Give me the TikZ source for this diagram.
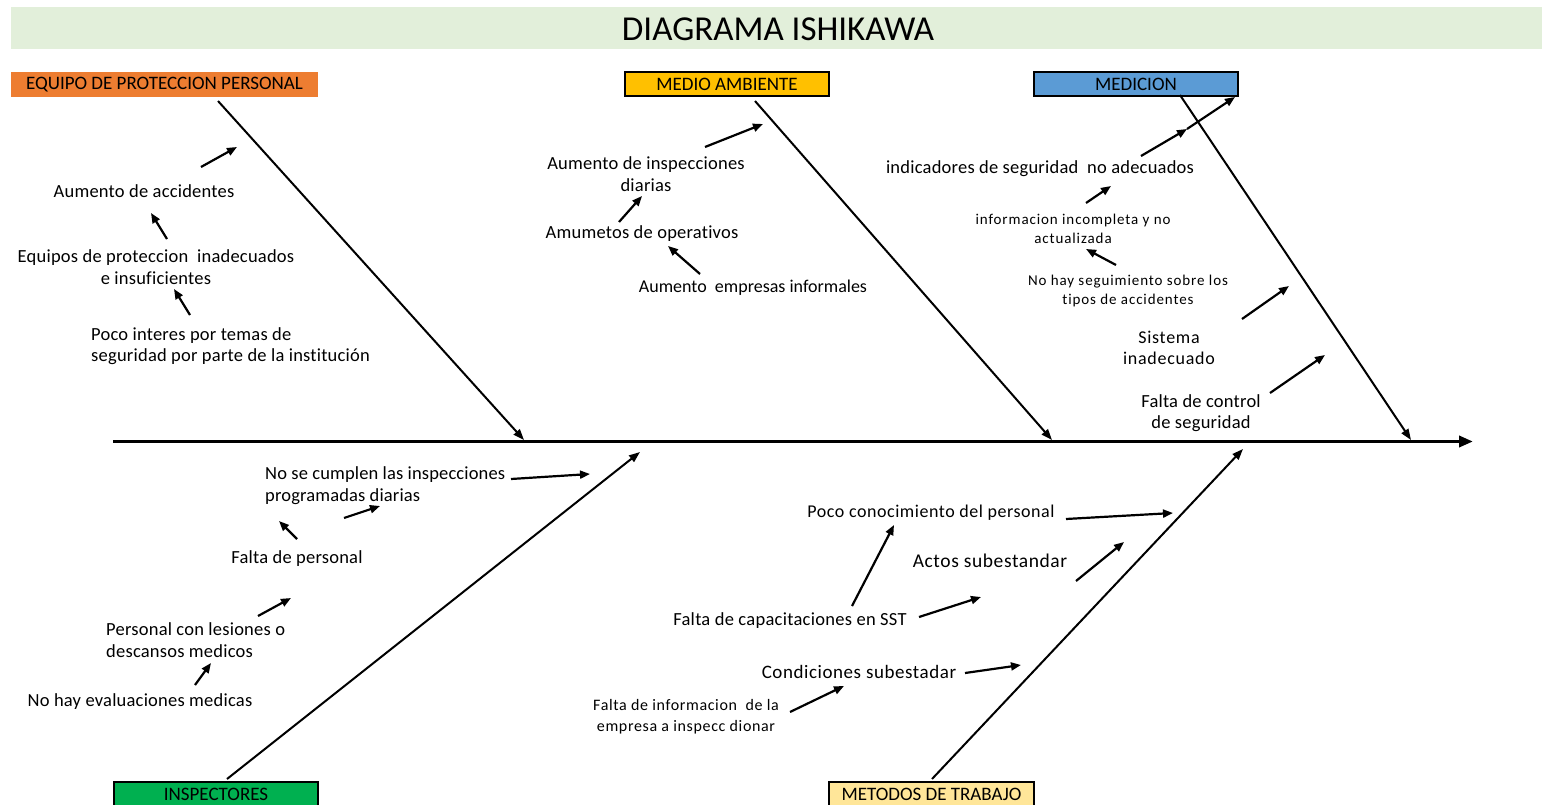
\documentclass[tikz,border=0pt]{standalone}
\usepackage{fontspec}
\setmainfont{Carlito}[Ligatures=CommonOff]
\usetikzlibrary{arrows.meta}
\definecolor{bandgreen}{HTML}{E2EFDA}
\definecolor{catorange}{HTML}{ED7D31}
\definecolor{catyellow}{HTML}{FFC000}
\definecolor{catblue}{HTML}{5B9BD5}
\definecolor{catgreen}{HTML}{00B050}
\definecolor{catsand}{HTML}{FFE699}
\begin{document}
\begin{tikzpicture}[x=1pt,y=-1pt,
  txt/.style={font=\fontsize{18.5}{21.5}\selectfont\addfontfeatures{LetterSpace=1.2}, align=center, inner sep=0pt},
  txtl/.style={txt, align=left},
  smalltxt/.style={font=\fontsize{15}{19.5}\selectfont\addfontfeatures{LetterSpace=6}, align=center, inner sep=0pt},
  catbox/.style={minimum width=204pt, minimum height=24pt, inner sep=0pt, draw=black, line width=1.3pt, font=\fontsize{19}{20}\selectfont},
  spine/.style={line width=3.5pt, -{Triangle[length=14pt,width=11pt]}},
  bone/.style={line width=2pt, -{Triangle[length=11pt,width=8pt]}},
  cause/.style={line width=2.2pt, -{Triangle[length=10pt,width=8pt]}},
]
\useasboundingbox (0,0) rectangle (1542,805);

% title band
\fill[bandgreen] (11,7) rectangle (1542,49);
\node[inner sep=0pt, font=\fontsize{35}{40}\selectfont] (title) at (778,29) {DIAGRAMA ISHIKAWA};

% category boxes
\node[catbox, draw=none, fill=catorange, minimum width=307pt, minimum height=25pt] (epp) at (164.5,84.5) {EQUIPO DE PROTECCION PERSONAL};
\node[catbox, fill=catyellow] (amb) at (727,84) {MEDIO AMBIENTE};
\node[catbox, fill=catblue] (med) at (1136,84) {MEDICION};
\node[catbox, fill=catgreen] (insp) at (216,794) {INSPECTORES};
\node[catbox, fill=catsand, minimum width=205pt] (met) at (931.5,794) {METODOS DE TRABAJO};

% spine and bones
\coordinate (spS) at (113,441.5);
\coordinate (spE) at (1473,441.5);
\draw[spine] (spS) -- (spE);

\coordinate (eppA) at (218,101);  \coordinate (eppB) at (524,440);
\coordinate (ambA) at (755,101);  \coordinate (ambB) at (1052,440);
\coordinate (medA) at (1180,95);  \coordinate (medB) at (1411,440);
\coordinate (inspA) at (227,779); \coordinate (inspB) at (640,452);
\coordinate (metA) at (932,779);  \coordinate (metB) at (1243,449);
\draw[bone] (eppA) -- (eppB);
\draw[bone] (ambA) -- (ambB);
\draw[bone] (medA) -- (medB);
\draw[bone] (inspA) -- (inspB);
\draw[bone] (metA) -- (metB);

% --- equipo de proteccion personal
\node[txt] (e1) at (144,191) {Aumento de accidentes};
\node[txt] (e2) at (156,267) {Equipos de proteccion\ \ inadecuados\\e insuficientes};
\node[txtl, anchor=west] (e3) at (91,346) {Poco interes por temas de\\seguridad por parte de la institución};
\coordinate (e1t) at (201,167); \coordinate (e1h) at (237,147);
\coordinate (e2t) at (167,239); \coordinate (e2h) at (151,213);
\coordinate (e3t) at (190,315); \coordinate (e3h) at (174,289);
\draw[cause] (e1t) -- (e1h);
\draw[cause] (e2t) -- (e2h);
\draw[cause] (e3t) -- (e3h);

% --- medio ambiente
\node[txt] (a1) at (646,174) {Aumento de inspecciones\\diarias};
\node[txt] (a2) at (642,234) {Amumetos de operativos};
\node[txt, font=\fontsize{18}{21.5}\selectfont] (a3) at (753,288) {Aumento\ \ empresas informales};
\coordinate (a1t) at (705,147); \coordinate (a1h) at (763,124);
\coordinate (a2t) at (619,222); \coordinate (a2h) at (642,196);
\coordinate (a3t) at (700,274); \coordinate (a3h) at (668,246);
\draw[cause] (a1t) -- (a1h);
\draw[cause] (a2t) -- (a2h);
\draw[cause] (a3t) -- (a3h);

% --- medicion
\node[txt] (m1) at (1040,169) {indicadores de seguridad\ \ no adecuados};
\node[smalltxt] (m2) at (1073,229) {informacion incompleta y no\\actualizada};
\node[smalltxt] (m3) at (1128,291) {No hay seguimiento sobre los\\tipos de accidentes};
\node[txt, font=\fontsize{18}{21.5}\selectfont\addfontfeatures{LetterSpace=4}] (m4) at (1169,348) {Sistema\\inadecuado};
\node[txt] (m5) at (1201,413) {Falta de control\\de seguridad};
\coordinate (m1t) at (1141,156); \coordinate (m1k) at (1187,129); \coordinate (m1h) at (1235,97);
\coordinate (m2t) at (1086,203); \coordinate (m2h) at (1111,186);
\coordinate (m3t) at (1116,265); \coordinate (m3h) at (1086,249);
\coordinate (m4t) at (1242,319); \coordinate (m4h) at (1289,286);
\coordinate (m5t) at (1270,393); \coordinate (m5h) at (1325,355);
\draw[cause] (m1t) -- (m1k);
\draw[cause] (m1k) -- (m1h);
\draw[cause] (m2t) -- (m2h);
\draw[cause] (m3t) -- (m3h);
\draw[cause] (m4t) -- (m4h);
\draw[cause] (m5t) -- (m5h);

% --- inspectores
\node[txtl, anchor=west, font=\fontsize{18.5}{21.5}\selectfont\addfontfeatures{LetterSpace=0.8}] (i1) at (265,485.5) {No se cumplen las inspecciones\\programadas diarias};
\node[txt] (i2) at (297,559) {Falta de personal};
\node[txtl, anchor=west] (i3) at (106,640) {Personal con lesiones o\\descansos medicos};
\node[txt] (i4) at (140,701.5) {No hay evaluaciones medicas};
\coordinate (i1t) at (511,479); \coordinate (i1h) at (590,474);
\coordinate (i2t) at (344,518); \coordinate (i2h) at (380,506);
\coordinate (i3t) at (297,539); \coordinate (i3h) at (279,521);
\coordinate (i4t) at (258,616); \coordinate (i4h) at (291,598);
\coordinate (i5t) at (195,685); \coordinate (i5h) at (211,663);
\draw[cause] (i1t) -- (i1h);
\draw[cause] (i2t) -- (i2h);
\draw[cause] (i3t) -- (i3h);
\draw[cause] (i4t) -- (i4h);
\draw[cause] (i5t) -- (i5h);

% --- metodos de trabajo
\node[txt, font=\fontsize{18}{21.5}\selectfont\addfontfeatures{LetterSpace=3}] (t1) at (931,513) {Poco conocimiento del personal};
\node[txt, font=\fontsize{19.5}{22}\selectfont\addfontfeatures{LetterSpace=3}] (t2) at (990,561) {Actos subestandar};
\node[txt, font=\fontsize{18.5}{21.5}\selectfont\addfontfeatures{LetterSpace=1.5}] (t3) at (790,621) {Falta de capacitaciones en SST};
\node[txt, font=\fontsize{19}{22}\selectfont\addfontfeatures{LetterSpace=3}] (t4) at (859,672) {Condiciones subestadar};
\node[txt, font=\fontsize{16}{21}\selectfont\addfontfeatures{LetterSpace=4}] (t5) at (686,717) {Falta de informacion\ \ de la\\empresa a inspecc dionar};
\coordinate (t1t) at (1066,519); \coordinate (t1h) at (1173,513);
\coordinate (t2t) at (1076,581); \coordinate (t2h) at (1124,542);
\coordinate (t3t) at (852,606);  \coordinate (t3h) at (894,525);
\coordinate (t4t) at (919,617);  \coordinate (t4h) at (981,597);
\coordinate (t5t) at (965,673);  \coordinate (t5h) at (1021,665);
\coordinate (t6t) at (790,712);  \coordinate (t6h) at (844,686);
\draw[cause] (t1t) -- (t1h);
\draw[cause] (t2t) -- (t2h);
\draw[cause] (t3t) -- (t3h);
\draw[cause] (t4t) -- (t4h);
\draw[cause] (t5t) -- (t5h);
\draw[cause] (t6t) -- (t6h);
\end{tikzpicture}
\end{document}
